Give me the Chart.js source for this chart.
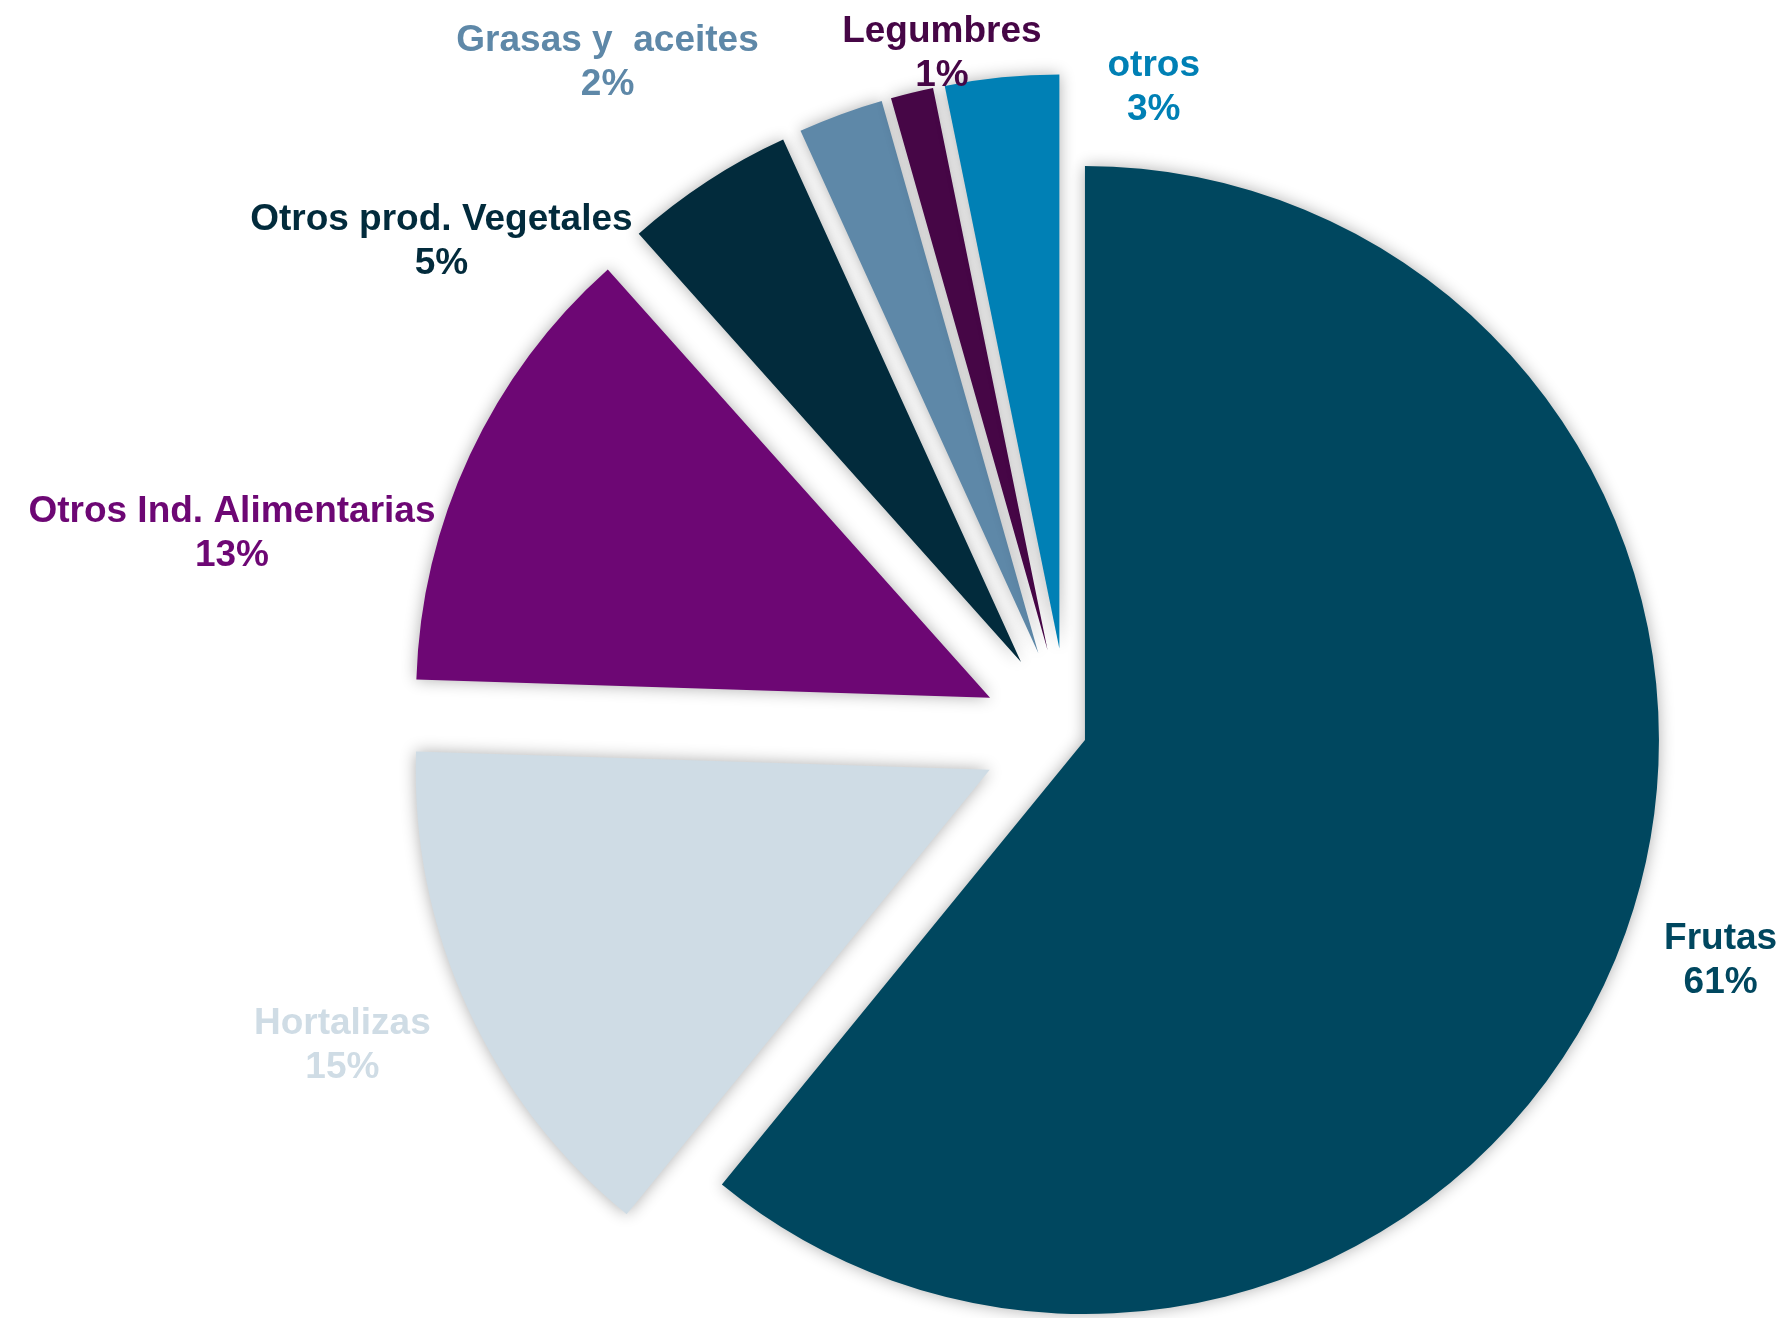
<!DOCTYPE html>
<html>
<head>
<meta charset="utf-8">
<script src="https://cdn.jsdelivr.net/npm/chart.js@4.4.0/dist/chart.umd.min.js"></script>
<style>
  html, body { margin: 0; padding: 0; background: #ffffff; }
  #wrap { width: 1786px; height: 1318px; position: relative; }
</style>
</head>
<body>
<div id="wrap"><canvas id="chart_pie"></canvas></div>
<script>
// data (share in %)
var categories = ['Frutas', 'Hortalizas', 'Otros Ind. Alimentarias', 'Otros prod. Vegetales', 'Grasas y  aceites', 'Legumbres', 'otros'];
var values = [60.9, 14.6, 12.9, 4.8, 2.4, 1.2, 3.2];

// styling
var colors = ['#00475F', '#CFDCE5', '#6D0774', '#022B3C', '#5E88A8', '#460646', '#0080B5'];
var explode = [18, 86, 86, 86, 86, 86, 86];   // px each slice is pulled out
var labelNudge = [[95, 28], [-125, 38], [-238, 79], [-266, 61], [-233, -52], [30, -39], [152, 10]];

var total = values.reduce(function (a, b) { return a + b; }, 0);

//pulls slices out along their middle angle (excel style, radius stays the same)
var explodePlugin = {
  id: 'explode',
  afterDatasetsUpdate: function (chart) {
    var meta = chart.getDatasetMeta(0);
    meta.data.forEach(function (arc, i) {
      var mid = (arc.startAngle + arc.endAngle) / 2;
      arc.x = arc.x + Math.cos(mid) * explode[i];
      arc.y = arc.y + Math.sin(mid) * explode[i];
    });
  },
  beforeDatasetsDraw: function (chart) {
    var ctx = chart.ctx;
    ctx.save();
    ctx.shadowColor = 'rgba(0,0,0,0.32)';
    ctx.shadowBlur = 16;
    ctx.shadowOffsetX = 0;
    ctx.shadowOffsetY = 0;
  },
  afterDatasetsDraw: function (chart) {
    var ctx = chart.ctx;
    ctx.restore();

    //labels: name + percent
    var meta = chart.getDatasetMeta(0);
    ctx.save();
    ctx.font = 'bold 37px "Liberation Sans", Arial, sans-serif';
    ctx.textAlign = 'center';
    ctx.textBaseline = 'middle';
    meta.data.forEach(function (arc, i) {
      var mid = (arc.startAngle + arc.endAngle) / 2;
      var x = arc.x + Math.cos(mid) * arc.outerRadius + labelNudge[i][0];
      var y = arc.y + Math.sin(mid) * arc.outerRadius + labelNudge[i][1];
      var pct = Math.round(values[i] / total * 100) + '%';
      ctx.fillStyle = colors[i];
      ctx.fillText(categories[i], x, y - 22);
      ctx.fillText(pct, x, y + 22);
    });
    ctx.restore();
  }
};

var ctxPie = document.getElementById('chart_pie').getContext('2d');

var configPie = {
  type: 'pie',
  data: {
    labels: categories,
    datasets: [{
      data: values,
      backgroundColor: colors,
      borderWidth: 0,
      hoverOffset: 0
    }]
  },
  options: {
    responsive: true,
    maintainAspectRatio: false,
    animation: false,
    events: [],
    radius: 574,
    layout: { padding: { left: 350, right: 0, top: 150, bottom: 0 } },
    plugins: {
      legend: { display: false },
      tooltip: { enabled: false }
    }
  },
  plugins: [explodePlugin]
};

var ChartPie = new Chart(ctxPie, configPie);
</script>
</body>
</html>
